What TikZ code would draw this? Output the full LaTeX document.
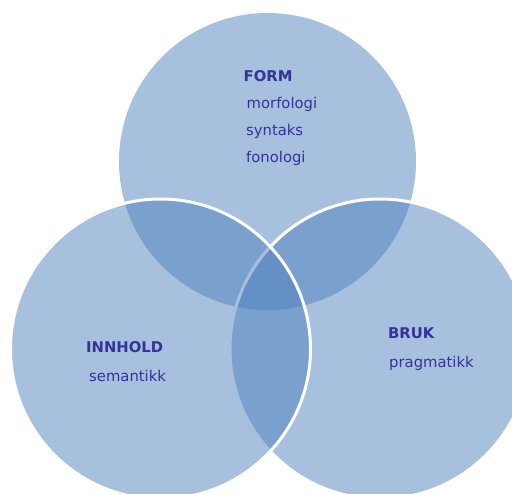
\documentclass[tikz,border=0pt]{standalone}
\usepackage{fontspec}
\setmainfont{DejaVu Sans}
\usetikzlibrary{positioning}
\definecolor{vennblue}{RGB}{79,129,189}
\definecolor{textblue}{RGB}{51,51,153}

\begin{document}
\begin{tikzpicture}[x=1pt,y=-1pt,
    set/.style={fill=vennblue,fill opacity=0.5},
    rim/.style={draw=white,line width=3pt},
    head/.style={anchor=base west,inner sep=0pt,text=textblue,
      font=\bfseries\fontsize{14.8}{17}\selectfont},
    item/.style={anchor=base west,inner sep=0pt,text=textblue,
      font=\fontsize{14.8}{17}\selectfont}]
  \useasboundingbox (0,0) rectangle (512,494);

  % the three circles
  \coordinate (Form) at (267.5,161.5);
  \coordinate (Bruk) at (380,349);
  \coordinate (Innhold) at (160.5,349);
  \path [set] (Form) circle (148.5pt);
  \path [set,rim] (Bruk) circle (150pt);
  \path [set,rim] (Innhold) circle (150pt);

  % labels
  \node [head] (form) at (243.5,82) {FORM};
  \node [item] (morfologi) at (246.5,109) {morfologi};
  \node [item] (syntaks) at (246,136) {syntaks};
  \node [item] (fonologi) at (246,163) {fonologi};

  \node [head] (innhold) at (86,353) {INNHOLD};
  \node [item] (semantikk) at (89,382) {semantikk};

  \node [head] (bruk) at (388,339) {BRUK};
  \node [item] (pragmatikk) at (389,368) {pragmatikk};
\end{tikzpicture}
\end{document}
